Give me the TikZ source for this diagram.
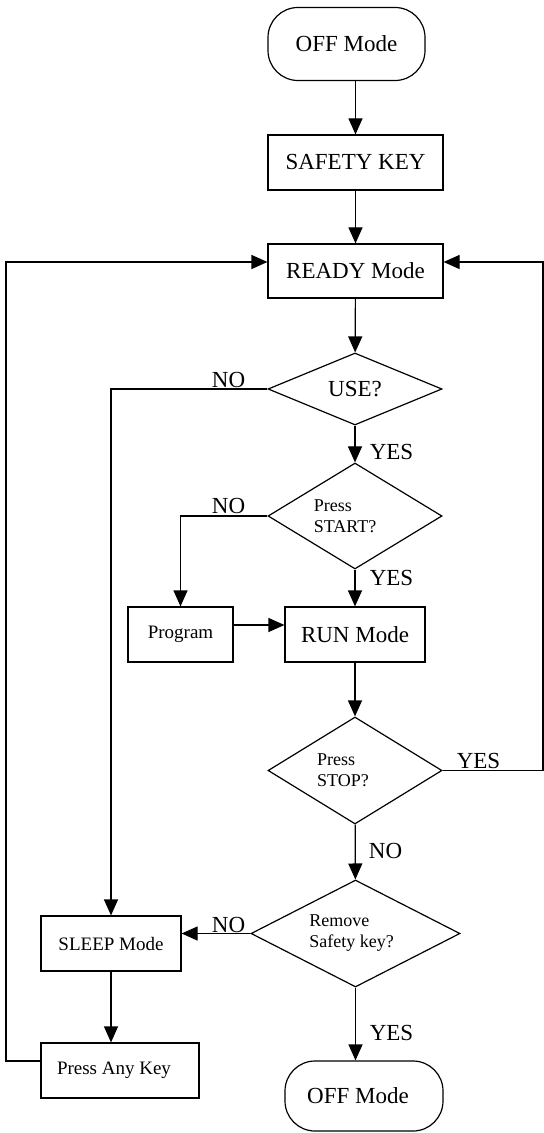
\documentclass[tikz,border=0pt]{standalone}
\usepackage{fontspec}
\setmainfont{Liberation Serif}
\usetikzlibrary{arrows.meta,shapes.geometric,positioning}
\begin{document}
\begin{tikzpicture}[x=0.5pt,y=-0.5pt,line width=0.6pt,>={Triangle[length=8pt,width=7pt]},
  box/.style={draw,minimum height=27.5pt,inner sep=1pt,font=\fontsize{11.5}{13}\selectfont},
  smallbox/.style={box,font=\fontsize{9.5}{11}\selectfont},
  term/.style={draw,rounded corners=15pt,minimum width=78.5pt,minimum height=36.5pt,font=\fontsize{11.5}{13}\selectfont},
  test/.style={draw,diamond,shape aspect=2,inner sep=0pt,minimum width=87pt,align=left,font=\fontsize{9}{10.5}\selectfont},
  answer/.style={inner sep=0pt,font=\fontsize{11.5}{13}\selectfont}]
\useasboundingbox (0,0) rectangle (544,1133);
\node[term](off)at(346.5,44){OFF Mode};
\node[box,minimum width=87.5pt](safe)at(355.5,162.5){SAFETY KEY};
\node[box,minimum width=87.5pt,minimum height=27pt](ready)at(355.5,271){READY Mode};
\node[test,minimum height=36pt,font=\fontsize{11.5}{13}\selectfont](use)at(355,389){USE?};
\node[test,minimum height=53pt](start)at(355,516){Press\\START?\hspace*{10pt}};
\node[smallbox,minimum width=52.5pt](prog)at(180.5,634.5){Program};
\node[box,minimum width=70pt](run)at(355,634.5){RUN Mode};
\node[test,minimum height=53.5pt](stop)at(355,770.5){Press\\STOP?\hspace*{12pt}};
\node[test,minimum width=104.5pt,minimum height=53.5pt](remove)at(355.5,933.5){Remove\\Safety key?\hspace*{4pt}};
\node[smallbox,minimum width=70pt](sleep)at(111,943.5){SLEEP Mode};
\node[smallbox,minimum width=79pt](anykey)at(120,1070.5){Press Any Key\hspace*{6pt}};
\node[term,minimum width=79pt,minimum height=35pt](offend)at(364,1096){OFF Mode\hspace*{6pt}};
\coordinate(leftrail)at(6,0);
\coordinate(rightrail)at(543,0);
\coordinate(readyin)at([yshift=4.5pt]ready.west);
\coordinate(readyback)at([yshift=4.5pt]ready.east);
\coordinate(keyout)at([yshift=4.75pt]anykey.west);
\draw[->](safe.north|-off.south)--(safe.north);
\draw[->](safe)--(ready);
\draw[->](ready)--(use);
\draw[->](use)--(start);
\draw[->](start)--(run);
\draw[->](run)--(stop);
\draw[->](stop)--(remove);
\draw[->](remove.south)--(remove.south|-offend.north);
\draw[->](use.west)-|(sleep.north);
\draw[->](start.west)-|(prog.north);
\draw[->]([yshift=4.75pt]prog.east)--([yshift=4.75pt]run.west);
\draw[->](remove.west)--(remove.west-|sleep.east);
\draw[->](sleep.south)--(sleep.south|-anykey.north);
\draw[->](keyout)--(keyout-|leftrail)--(readyin-|leftrail)--(readyin);
\draw[->](stop.east)--(stop.east-|rightrail)--(readyback-|rightrail)--(readyback);
\node[answer](nouse)at(228.5,379.5){NO};
\node[answer](yesuse)at(391.5,451.5){YES};
\node[answer](nostart)at(228.5,506){NO};
\node[answer](yesstart)at(391.5,578){YES};
\node[answer](yesstop)at(478.5,760.5){YES};
\node[answer](nostop)at(385.5,851){NO};
\node[answer](noremove)at(228.5,924.5){NO};
\node[answer](yesremove)at(391.5,1033){YES};
\end{tikzpicture}
\end{document}
